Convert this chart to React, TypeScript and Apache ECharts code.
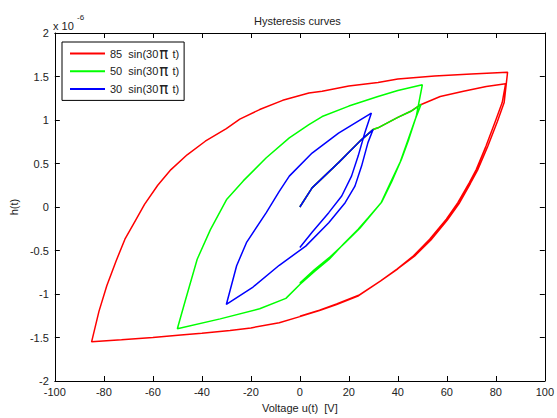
import React, { useEffect, useRef } from "react";
import * as echarts from "echarts";

// Voltage u(t) [V] and h(t) [x 1e-6], in drawing order along each trajectory
const redU = [0, 5, 15.8, 25.2, 29.9, 31.9, 40, 45.3, 49.3, 57.3, 66.8, 76.1, 84,
  82.6, 80, 76, 72, 69.2, 64.5, 59.8, 53, 46.4, 39.8, 33, 24, 15, 8, 0, -8.4, -20, -28.5, -40, -48.6, -60, -72.8, -85,
  -82, -78.8, -75, -71.4, -67, -63.4, -58, -52.6, -46, -38.6, -30, -24.5, -16.4, -7, 3.7, 9.1, 20, 31.9, 40, 55, 70, 84.8,
  83.4, 80.6, 76.6, 72.5, 69.6, 65, 60.2, 53.5, 46.8, 40, 33, 24, 15, 8, 0];
const redH = [0, 0.22, 0.51, 0.775, 0.89, 0.91, 1.03, 1.1, 1.176, 1.27, 1.33, 1.386, 1.417,
  1.2, 1.0, 0.7, 0.43, 0.28, 0.05, -0.14, -0.37, -0.56, -0.71, -0.85, -1.02, -1.12, -1.19, -1.26, -1.33, -1.39, -1.42, -1.45, -1.47, -1.5, -1.527, -1.55,
  -1.2, -0.905, -0.62, -0.37, -0.15, 0.03, 0.25, 0.43, 0.6, 0.756, 0.9, 1.01, 1.12, 1.226, 1.31, 1.33, 1.39, 1.43, 1.47, 1.505, 1.53, 1.55,
  1.2, 0.98, 0.69, 0.42, 0.27, 0.04, -0.15, -0.38, -0.565, -0.71, -0.85, -1.015, -1.115, -1.185, -1.255];

const greenU = [0, 5, 15.8, 25.2, 29.9, 31.9, 40, 45.3, 49.5,
  47, 44, 41, 37, 33.2, 28, 23.8, 18, 12, 6, 0, -5.7, -16.4, -32.5, -50,
  -46.6, -41.9, -36.5, -29.8, -23.1, -13.7, -4.3, 3.7, 9.1, 20, 31.9, 40, 50,
  47.5, 44.5, 41.5, 37.5, 33.5, 28.5, 24.5, 18.5, 12.5, 6, 0];
const greenH = [0, 0.22, 0.51, 0.775, 0.89, 0.91, 1.03, 1.1, 1.18,
  1.0, 0.76, 0.52, 0.28, 0.05, -0.12, -0.255, -0.42, -0.6, -0.74, -0.89, -1.05, -1.17, -1.286, -1.4,
  -1.06, -0.6, -0.26, 0.09, 0.3, 0.566, 0.795, 0.947, 1.04, 1.16, 1.27, 1.34, 1.405,
  1.04, 0.78, 0.55, 0.29, 0.06, -0.11, -0.245, -0.41, -0.57, -0.72, -0.875];

const blueU = [0, 5, 15.8, 25.2, 29.9,
  27.8, 25.2, 22.5, 18.5, 11.8, 2.4, -8.4, -19.1, -30,
  -25.8, -21.8, -13.7, -8.4, -4.3, 5, 15.8, 29.2,
  26.5, 23.8, 21.1, 17.1, 11.8, 5, 0];
const blueH = [0, 0.22, 0.51, 0.775, 0.89,
  0.74, 0.47, 0.24, 0.05, -0.18, -0.45, -0.67, -0.92, -1.12,
  -0.675, -0.41, -0.065, 0.18, 0.355, 0.62, 0.85, 1.08,
  0.85, 0.585, 0.355, 0.126, -0.065, -0.29, -0.465];

const seriesNames = ["85  sin(30π t)", "50  sin(30π t)", "30  sin(30π t)"];
const seriesColors = ["#ff0000", "#00ff00", "#0000ff"];

const FONT = "Liberation Sans, Arial, sans-serif";
const TXT = "#222";

export default function App() {
  const ref = useRef<HTMLDivElement>(null);
  useEffect(() => {
    if (!ref.current) return;
    const chart = echarts.init(ref.current, undefined, { renderer: "svg" });
    const pairs = (u: number[], h: number[]) => u.map((x, i) => [x, h[i]]);
    const datasets = [pairs(redU, redH), pairs(greenU, greenH), pairs(blueU, blueH)];
    const axisCommon = {
      type: "value" as const,
      axisLine: { show: true, onZero: false, lineStyle: { color: "#000", width: 1 } },
      axisTick: { show: true, inside: true, length: 5, lineStyle: { color: "#000" } },
      splitLine: { show: false },
    };
    chart.setOption({
      animation: false,
      backgroundColor: "#fff",
      grid: { left: 52, right: 8, top: 33, bottom: 36, containLabel: false },
      xAxis: [
        {
          ...axisCommon, position: "bottom", min: -100, max: 100, interval: 20,
          axisLabel: { color: TXT, fontSize: 11, fontFamily: FONT, margin: 5 },
          name: "Voltage u(t)  [V]", nameLocation: "middle", nameGap: 21,
          nameTextStyle: { color: TXT, fontSize: 11, fontFamily: FONT },
        },
        { ...axisCommon, position: "top", min: -100, max: 100, interval: 20, axisLabel: { show: false } },
      ],
      yAxis: [
        {
          ...axisCommon, position: "left", min: -2, max: 2, interval: 0.5,
          axisLabel: { color: TXT, fontSize: 11, fontFamily: FONT, margin: 6 },
          name: "h(t)", nameLocation: "middle", nameGap: 32, nameRotate: 90,
          nameTextStyle: { color: TXT, fontSize: 11, fontFamily: FONT },
        },
        { ...axisCommon, position: "right", min: -2, max: 2, interval: 0.5, axisLabel: { show: false } },
      ],
      legend: {
        orient: "vertical", left: 62, top: 42,
        data: seriesNames,
        itemWidth: 35, itemHeight: 14, itemGap: 2.7,
        padding: [4, 5, 4, 7],
        borderColor: "#000", borderWidth: 1, backgroundColor: "#fff",
        itemStyle: { opacity: 0 },
        formatter: (name: string) => name.replace("π", "{pi|π}"),
        textStyle: {
          color: TXT, fontSize: 11, fontFamily: FONT,
          rich: { pi: { fontSize: 15, fontFamily: "DejaVu Sans, sans-serif", color: TXT, padding: [0, 1, 0, 1] } },
        },
      },
      graphic: [
        { type: "text", left: 300 - 46, top: 15, style: { text: "Hysteresis curves", fill: TXT, font: `11px ${FONT}` } },
        { type: "text", x: 53, y: 20, style: { text: "x 10", fill: TXT, font: `11px ${FONT}` } },
        { type: "text", x: 77, y: 13, style: { text: "-6", fill: TXT, font: `8px ${FONT}` } },
      ],
      series: datasets.map((d, i) => ({
        name: seriesNames[i],
        type: "line",
        data: d,
        xAxisIndex: 0,
        yAxisIndex: 0,
        symbol: "none",
        showSymbol: false,
        color: seriesColors[i],
        lineStyle: { color: seriesColors[i], width: 1.5 },
      })),
    });
    return () => chart.dispose();
  }, []);
  return <div ref={ref} style={{ position: "absolute", left: 0, top: 0, width: 557, height: 418 }} />;
}
